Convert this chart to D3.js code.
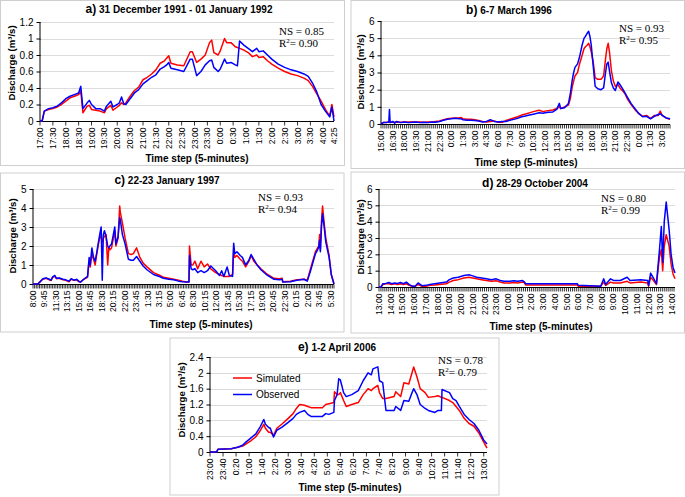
<!DOCTYPE html>
<html>
<head>
<meta charset="utf-8">
<script src="https://cdn.jsdelivr.net/npm/d3@7"></script>
<style>
  body { margin: 0; background: #fff; }
  svg { display: block; }
</style>
</head>
<body>
<svg id="chart" width="685" height="497"></svg>
<script>
// ---- data: a) 31 Dec 1991 - 01 Jan 1992
const aTimes = ["17:00","17:05","17:10","17:20","17:30","17:40","17:50","18:00","18:10","18:20","18:30","18:35","18:40","18:50","18:55","19:00","19:10","19:20","19:30","19:35","19:45","19:50","20:00","20:05","20:10","20:15","20:20","20:30","20:40","20:50","21:00","21:10","21:20","21:30","21:40","21:50","21:55","22:00","22:05","22:20","22:35","22:50","22:55","23:05","23:15","23:25","23:35","23:40","23:45","23:55","0:00","0:10","0:15","0:25","0:35","0:40","0:45","0:55","1:05","1:15","1:25","1:30","1:40","1:50","2:00","2:15","2:30","2:45","3:00","3:15","3:25","3:35","3:45","3:55","4:05","4:15","4:20","4:25"];
const aSim = [0,0,0.12,0.14,0.15,0.17,0.2,0.24,0.28,0.3,0.32,0.36,0.1,0.18,0.19,0.14,0.13,0.12,0.1,0.15,0.19,0.13,0.17,0.19,0.22,0.2,0.22,0.3,0.37,0.41,0.5,0.53,0.57,0.62,0.7,0.73,0.76,0.79,0.7,0.68,0.67,0.84,0.84,0.71,0.75,0.8,0.95,0.98,0.83,0.8,0.85,1.0,0.95,0.95,0.9,0.89,0.88,0.86,0.83,0.78,0.8,0.77,0.78,0.73,0.69,0.64,0.6,0.57,0.55,0.52,0.49,0.42,0.33,0.24,0.14,0.06,0.2,0.05];
const aObs = [0,0,0.12,0.15,0.16,0.18,0.22,0.27,0.3,0.32,0.34,0.42,0.15,0.22,0.25,0.2,0.15,0.15,0.12,0.18,0.24,0.17,0.2,0.22,0.29,0.21,0.2,0.27,0.34,0.38,0.45,0.49,0.53,0.56,0.63,0.66,0.68,0.71,0.64,0.62,0.6,0.75,0.75,0.55,0.6,0.68,0.73,0.74,0.65,0.6,0.63,0.75,0.7,0.71,0.68,0.67,0.97,0.92,0.88,0.84,0.88,0.84,0.85,0.8,0.75,0.69,0.65,0.62,0.6,0.57,0.54,0.46,0.35,0.2,0.12,0.05,0.17,0];
const aLabels = ["17:00","17:30","18:00","18:30","19:00","19:30","20:00","20:30","21:00","21:30","22:00","22:30","23:00","23:30","0:00","0:30","1:00","1:30","2:00","2:30","3:00","3:30","4:00","4:25"];

// ---- b) 6-7 March 1996
const bTimes = ["15:00","15:20","15:40","16:00","16:05","16:10","16:30","16:45","17:00","17:30","18:00","18:30","19:00","19:30","20:00","20:30","21:00","21:30","22:00","22:30","23:00","23:30","0:00","0:30","1:00","1:15","1:30","2:00","2:30","3:00","3:30","4:00","4:30","5:00","5:30","6:00","6:30","7:00","7:30","8:00","8:30","9:00","9:30","10:00","10:30","11:15","11:45","12:00","12:30","13:00","13:30","13:50","14:00","14:30","15:00","15:15","15:30","15:40","15:50","16:10","16:25","16:45","17:00","17:10","17:25","17:35","17:45","17:55","18:10","18:25","18:45","19:10","19:30","19:45","19:55","20:05","20:15","20:30","20:45","21:00","21:20","21:35","22:00","22:15","22:30","23:00","23:30","0:00","0:30","1:00","1:30","2:00","2:30","2:45","3:00","3:30","4:00"];
const bSim = [0.05,0.08,0.1,0.1,0.1,0.1,0.1,0.1,0.12,0.1,0.12,0.12,0.12,0.12,0.12,0.1,0.12,0.12,0.15,0.18,0.25,0.3,0.33,0.35,0.35,0.38,0.3,0.28,0.28,0.25,0.2,0.15,0.12,0.15,0.18,0.1,0.1,0.2,0.28,0.35,0.42,0.52,0.58,0.65,0.72,0.8,0.72,0.75,0.78,0.82,0.9,1.0,0.9,1.0,1.1,1.5,2.2,2.5,2.8,3.0,3.5,4.0,4.4,4.5,4.6,4.7,4.5,4.2,3.6,2.7,2.6,2.6,2.8,3.8,4.4,4.7,4.2,3.1,2.5,2.2,2.3,2.1,1.9,1.75,1.5,1.15,0.85,0.6,0.45,0.5,0.32,0.5,0.5,0.75,0.5,0.35,0.28];
const bObs = [0,0.1,0.08,0.12,0.85,0.08,0.15,0.05,0.15,0.08,0.12,0.08,0.1,0.12,0.08,0.1,0.08,0.12,0.1,0.15,0.22,0.28,0.3,0.33,0.3,0.3,0.25,0.22,0.22,0.2,0.18,0.12,0.15,0.25,0.15,0.12,0.15,0.15,0.22,0.27,0.33,0.42,0.47,0.52,0.57,0.65,0.63,0.65,0.68,0.7,0.85,1.2,0.9,0.95,1.2,1.8,2.6,3.0,3.3,3.5,3.9,4.6,5.0,5.1,5.3,5.4,5.1,4.6,3.4,2.2,2.05,2.0,2.1,3.0,3.5,3.6,3.1,2.4,2.1,1.95,2.45,2.3,2.0,1.8,1.6,1.2,0.9,0.62,0.42,0.45,0.3,0.45,0.55,0.6,0.5,0.35,0.3];
const bLabels = ["15:00","16:30","18:00","19:30","21:00","22:30","0:00","1:30","3:00","4:30","6:00","7:30","9:00","10:30","12:00","13:30","15:00","16:30","18:00","19:30","21:00","22:30","0:00","1:30","3:00"];

// ---- c) 22-23 January 1997
const cTimes = ["8:00","8:45","9:00","9:30","10:00","10:30","10:45","11:00","11:20","11:35","12:00","12:35","13:00","13:30","13:50","14:15","14:40","15:00","15:15","15:45","16:20","16:35","16:45","17:00","17:15","17:30","17:40","18:00","18:15","18:25","18:35","18:45","18:55","19:10","19:25","19:35","19:45","20:00","20:30","20:40","21:00","21:15","21:20","21:40","22:05","22:35","23:00","23:20","23:50","0:20","0:50","1:25","2:25","3:25","3:55","4:45","5:30","6:15","6:50","7:30","7:50","7:55","8:10","8:25","8:45","9:10","9:40","10:10","10:40","11:10","11:55","12:30","12:50","13:10","13:40","14:00","14:30","14:40","14:50","15:10","15:40","16:00","16:30","17:00","17:20","17:45","18:15","18:50","19:50","20:50","21:40","22:05","22:10","23:20","0:20","1:25","1:55","2:25","2:50","3:10","3:30","3:40","3:48","3:55","4:05","4:15","4:30","4:45","5:15","5:35","6:00"];
const cSim = [0,0,0.1,0.25,0.3,0.22,0.18,0.35,0.4,0.28,0.3,0.22,0.2,0.12,0.25,0.2,0.22,0.12,0.1,0.25,0.35,1.2,0.9,1.6,1.3,1.0,1.4,2.1,2.5,2.5,2.2,2.4,2.5,2.6,1.0,1.9,1.8,1.9,2.8,2.0,2.4,4.1,3.8,3.2,2.4,1.6,1.55,1.6,1.9,1.4,1.1,0.9,0.6,0.45,0.35,0.3,0.25,0.2,0.15,0.1,0.1,2.0,1.0,1.0,1.2,0.8,1.2,0.9,1.05,0.8,0.6,0.5,0.45,0.4,0.4,0.4,0.5,1.9,1.4,1.5,1.3,1.2,0.9,1.2,1.5,1.2,1.0,0.8,0.5,0.3,0.28,0.3,0.12,0.15,0.22,0.25,0.2,0.8,1.3,1.7,1.9,2.0,2.6,1.8,3.3,4.1,3.2,2.4,1.5,0.5,0];
const cObs = [0,0,0.08,0.28,0.32,0.25,0.2,0.38,0.45,0.3,0.32,0.25,0.22,0.15,0.28,0.2,0.25,0.15,0.1,0.25,0.4,1.4,1.0,1.9,1.4,1.2,1.5,2.2,2.7,3.0,0.2,2.6,2.8,2.5,2.0,1.9,2.0,2.1,3.0,2.1,2.5,3.5,3.4,2.6,2.1,1.3,1.25,1.25,1.45,1.2,0.95,0.75,0.5,0.38,0.3,0.25,0.22,0.15,0.12,0.1,0.1,1.5,0.8,0.75,0.8,0.6,0.7,0.6,0.7,0.95,0.7,0.45,0.7,0.4,0.9,0.45,0.4,2.15,1.6,1.7,1.5,1.4,1.0,1.25,1.55,1.3,1.0,0.75,0.45,0.25,0.22,0.25,0.1,0.12,0.2,0.25,0.15,0.7,1.2,1.6,1.8,1.95,2.3,1.7,3.0,3.7,3.0,2.2,1.4,0.5,0];
const cLabels = ["8:00","9:45","11:30","13:15","15:00","16:45","18:30","20:15","22:00","23:45","1:30","3:15","5:00","6:45","8:30","10:15","12:00","13:45","15:30","17:15","19:00","20:45","22:30","0:15","2:00","3:45","5:30"];

// ---- d) 28-29 October 2004
const dTimes = ["13:00","13:10","13:20","13:35","13:50","14:05","14:20","14:35","14:50","15:05","15:20","15:35","15:50","16:05","16:20","16:40","17:00","17:20","17:45","18:10","18:45","19:00","19:20","19:45","20:15","20:40","21:00","21:20","21:45","22:10","22:35","23:00","23:20","23:40","0:10","0:30","0:50","1:15","1:25","1:30","3:00","5:55","6:00","7:00","7:55","8:10","8:20","8:45","9:00","9:35","10:10","10:25","11:20","11:55","12:00","12:10","12:25","12:40","12:55","13:05","13:12","13:20","13:30","13:45","13:55","14:05","14:15"];
const dSim = [0,0,0.15,0.2,0.2,0.15,0.2,0.15,0.2,0.15,0.2,0.1,0.05,0.05,0.15,0.05,0.05,0.1,0.12,0.15,0.2,0.3,0.4,0.45,0.55,0.6,0.55,0.5,0.45,0.4,0.35,0.38,0.3,0.25,0.25,0.28,0.25,0.3,0.25,0.12,0.12,0.12,0.05,0.05,0.05,0.3,0.1,0.3,0.25,0.25,0.35,0.25,0.3,0.25,0.05,0.6,0.4,0.15,1.8,2.3,1.0,2.5,3.2,2.5,1.4,0.8,0.5];
const dObs = [0,0,0.2,0.22,0.28,0.2,0.25,0.22,0.28,0.2,0.3,0.15,0.05,0.05,0.25,0.08,0.1,0.15,0.2,0.25,0.3,0.45,0.55,0.6,0.7,0.75,0.68,0.6,0.55,0.5,0.45,0.5,0.4,0.35,0.35,0.38,0.35,0.4,0.3,0.2,0.2,0.2,0.1,0.08,0.05,0.5,0.15,0.5,0.4,0.4,0.6,0.4,0.45,0.4,0.1,0.85,0.55,0.2,2.2,3.7,1.5,4.0,5.2,3.5,2.0,1.2,0.85];
const dLabels = ["13:00","14:00","15:00","16:00","17:00","18:00","19:00","20:00","21:00","22:00","23:00","0:00","1:00","2:00","3:00","4:00","5:00","6:00","7:00","8:00","9:00","10:00","11:00","12:00","13:00","14:00"];

// ---- e) 1-2 April 2006
const eTimes = ["23:00","23:20","23:25","0:05","0:25","0:40","0:50","1:05","1:20","1:35","1:45","1:50","2:00","2:05","2:15","2:25","2:40","3:00","3:15","3:25","3:35","3:50","4:00","4:10","4:45","4:55","5:05","5:20","5:22","5:30","5:35","5:40","5:50","5:58","6:15","6:35","6:50","7:05","7:15","7:20","7:35","7:40","7:50","8:00","8:25","8:30","8:45","8:55","9:10","9:20","9:25","9:35","9:45","10:00","10:10","10:30","10:40","10:50","10:52","11:15","11:25","11:35","11:45","12:00","12:15","12:30","12:45","13:00","13:10"];
const eSim = [0,0,0.07,0.08,0.12,0.15,0.2,0.28,0.38,0.55,0.7,0.6,0.5,0.5,0.42,0.6,0.7,0.85,0.97,1.1,1.2,1.18,1.15,1.12,1.12,1.2,1.22,1.25,1.52,1.45,1.45,1.5,1.3,1.15,1.2,1.25,1.45,1.6,1.55,1.6,1.68,1.5,1.35,1.35,1.4,1.52,1.4,1.75,1.72,2.0,2.15,1.9,1.6,1.5,1.38,1.4,1.42,1.38,1.38,1.3,1.25,1.15,1.05,0.85,0.72,0.65,0.48,0.25,0.1];
const eObs = [0,0,0.07,0.08,0.12,0.17,0.25,0.35,0.45,0.65,0.82,0.7,0.62,0.6,0.38,0.55,0.62,0.75,0.85,0.95,1.0,1.05,0.95,0.9,0.9,0.97,0.95,1.0,1.3,1.45,1.85,1.82,1.5,1.4,1.45,1.55,1.8,2.0,1.95,2.1,2.15,1.8,1.75,1.05,1.05,1.15,1.05,1.3,1.28,1.5,1.6,1.45,1.2,1.1,1.05,1.0,1.05,1.05,1.58,1.5,1.35,1.3,1.15,0.95,0.82,0.72,0.55,0.3,0.2];
const eLabels = ["23:00","23:40","0:20","1:00","1:40","2:20","3:00","3:40","4:20","5:00","5:40","6:20","7:00","7:40","8:20","9:00","9:40","10:20","11:00","11:40","12:20","13:00"];

const seriesNames = ["Simulated", "Observed"];
const seriesColors = ["#ff0000", "#0000ff"];

// ---- layout of the five panels
const panels = [
  { id: "a)", title: "31 December 1991 - 01 January 1992", ns: "0.85", r2: "0.90",
    times: aTimes, sim: aSim, obs: aObs, labels: aLabels, yMax: 1.2, yStep: 0.2, tickStep: 30,
    box: [0.5, 0.5, 344, 165], plot: [40, 334, 121, 22],
    titleX: 179, titleY: 13, xtX: 197, xtY: 162, ytX: 15, ytY: 63, nsX: 279, nsY: 35 },
  { id: "b)", title: "6-7 March 1996", ns: "0.93", r2: "0.95",
    times: bTimes, sim: bSim, obs: bObs, labels: bLabels, yMax: 6, yStep: 1, tickStep: 15,
    box: [351, 0.5, 333.5, 168], plot: [381, 670, 124, 21],
    titleX: 509, titleY: 14, xtX: 526, xtY: 166, ytX: 364, ytY: 72, nsX: 619, nsY: 32 },
  { id: "c)", title: "22-23 January 1997", ns: "0.93", r2: "0.94",
    times: cTimes, sim: cSim, obs: cObs, labels: cLabels, yMax: 5, yStep: 1, tickStep: 15,
    box: [0.5, 173, 343.5, 159], plot: [33, 334, 284, 189],
    titleX: 167, titleY: 184, xtX: 201, xtY: 328, ytX: 15.5, ytY: 236, nsX: 258, nsY: 201 },
  { id: "d)", title: "28-29 October 2004", ns: "0.80", r2: "0.99",
    times: dTimes, sim: dSim, obs: dObs, labels: dLabels, yMax: 6, yStep: 1, tickStep: 10,
    box: [351, 172, 333.5, 161], plot: [379, 675, 287, 189],
    titleX: 535, titleY: 186.5, xtX: 541, xtY: 330, ytX: 364, ytY: 237, nsX: 601, nsY: 202 },
  { id: "e)", title: "1-2 April 2006", ns: "0.78", r2: "0.79",
    times: eTimes, sim: eSim, obs: eObs, labels: eLabels, yMax: 2.4, yStep: 0.4, tickStep: 40,
    box: [170, 338, 329, 157], plot: [210, 487, 452, 357],
    titleX: 337, titleY: 350.5, xtX: 350, xtY: 491, ytX: 185, ytY: 400, nsX: 438, nsY: 364,
    legend: true }
];

const svg = d3.select("#chart");
svg.append("rect").attr("width", 685).attr("height", 497).attr("fill", "#fff");

// turn "H:MM" strings into minutes from the first one, rolling over midnight
function toMinutes(times) {
  let day = 0, prev = -Infinity;
  const out = times.map(t => {
    const [h, m] = t.split(":").map(Number);
    let v = h * 60 + m + day;
    if (v < prev) { day += 1440; v += 1440; }
    prev = v;
    return v;
  });
  return out.map(v => v - out[0]);
}

const fmt = d => String(+d.toFixed(1));

function drawPanel(p) {
  const g = svg.append("g");
  g.append("rect")
    .attr("x", p.box[0]).attr("y", p.box[1])
    .attr("width", p.box[2]).attr("height", p.box[3])
    .attr("fill", "#fff").attr("stroke", "#cfcfcf");

  const tData = toMinutes(p.times);
  const tLab = toMinutes(p.labels);
  const end = tData[tData.length - 1];

  const x = d3.scaleLinear().domain([0, end]).range([p.plot[0], p.plot[1]]);
  const y = d3.scaleLinear().domain([0, p.yMax]).range([p.plot[2], p.plot[3]]);
  const yTicks = d3.range(0, p.yMax + p.yStep / 2, p.yStep);

  // gridlines
  g.selectAll("line.grid").data(yTicks.slice(1)).join("line")
    .attr("class", "grid")
    .attr("x1", p.plot[0]).attr("x2", p.plot[1])
    .attr("y1", d => Math.round(y(d)) + 0.5).attr("y2", d => Math.round(y(d)) + 0.5)
    .attr("stroke", "#dcdcdc").attr("stroke-width", 1);

  // y axis
  const ya = g.append("g")
    .attr("transform", `translate(${p.plot[0] + 0.5},0)`)
    .call(d3.axisLeft(y).tickValues(yTicks).tickFormat(fmt).tickSize(4).tickPadding(3));
  ya.select(".domain").attr("stroke", "#000").attr("d", `M-0.5,${p.plot[2]}V${p.plot[3]}`);
  ya.selectAll("text").attr("font-family", "Liberation Sans, Arial, sans-serif")
    .attr("font-size", 10).attr("fill", "#000");

  // x axis: dense minor ticks plus labelled ones
  const y0 = p.plot[2] + 0.5;
  g.append("line").attr("x1", p.plot[0]).attr("x2", p.plot[1])
    .attr("y1", y0).attr("y2", y0).attr("stroke", "#000");
  g.selectAll("line.xt").data(d3.range(0, end + 1, p.tickStep)).join("line")
    .attr("class", "xt")
    .attr("x1", d => x(d)).attr("x2", d => x(d))
    .attr("y1", y0).attr("y2", y0 + 4)
    .attr("stroke", "#000").attr("stroke-width", 0.8);
  g.selectAll("text.xl").data(p.labels).join("text")
    .attr("class", "xl")
    .attr("transform", (d, i) => `translate(${x(tLab[i]) + 3},${y0 + 6}) rotate(-90)`)
    .attr("text-anchor", "end")
    .attr("font-family", "Liberation Sans, Arial, sans-serif")
    .attr("font-size", 8.6)
    .text(d => d);

  // the two series
  const line = d3.line().x((d, i) => x(tData[i])).y(d => y(d));
  [p.sim, p.obs].forEach((vals, k) => {
    g.append("path").datum(vals)
      .attr("d", line)
      .attr("fill", "none")
      .attr("stroke", seriesColors[k])
      .attr("stroke-width", 1.5)
      .attr("stroke-linejoin", "round");
  });

  // titles
  const tt = g.append("text").attr("x", p.titleX).attr("y", p.titleY)
    .attr("text-anchor", "middle")
    .attr("font-family", "Liberation Sans, Arial, sans-serif").attr("font-weight", "bold");
  tt.append("tspan").attr("font-size", 12).text(p.id);
  tt.append("tspan").attr("font-size", 10).text(" " + p.title);

  g.append("text").attr("x", p.xtX).attr("y", p.xtY)
    .attr("text-anchor", "middle")
    .attr("font-family", "Liberation Sans, Arial, sans-serif").attr("font-weight", "bold")
    .attr("font-size", 10).text("Time step (5-minutes)");

  g.append("text")
    .attr("transform", `translate(${p.ytX},${p.ytY}) rotate(-90)`)
    .attr("text-anchor", "middle")
    .attr("font-family", "Liberation Sans, Arial, sans-serif").attr("font-weight", "bold")
    .attr("font-size", 9.6).text("Discharge (m³/s)");

  // goodness of fit
  const st = g.append("g").attr("font-family", "Liberation Serif, Times New Roman, serif")
    .attr("font-size", 11);
  st.append("text").attr("x", p.nsX).attr("y", p.nsY).text("NS = " + p.ns);
  const r = st.append("text").attr("x", p.nsX).attr("y", p.nsY + 12);
  r.append("tspan").text("R");
  r.append("tspan").attr("font-size", 7).attr("dy", -4).text("2");
  r.append("tspan").attr("dy", 4).text("= " + p.r2);

  if (p.legend) {
    const lg = g.append("g");
    seriesNames.forEach((name, k) => {
      const ly = 378 + k * 16.5;
      lg.append("line").attr("x1", 233).attr("x2", 252).attr("y1", ly).attr("y2", ly)
        .attr("stroke", seriesColors[k]).attr("stroke-width", 1.5);
      lg.append("text").attr("x", 256).attr("y", ly + 3.5)
        .attr("font-family", "Liberation Sans, Arial, sans-serif").attr("font-size", 10)
        .text(name);
    });
  }
}

panels.forEach(drawPanel);
</script>
</body>
</html>
